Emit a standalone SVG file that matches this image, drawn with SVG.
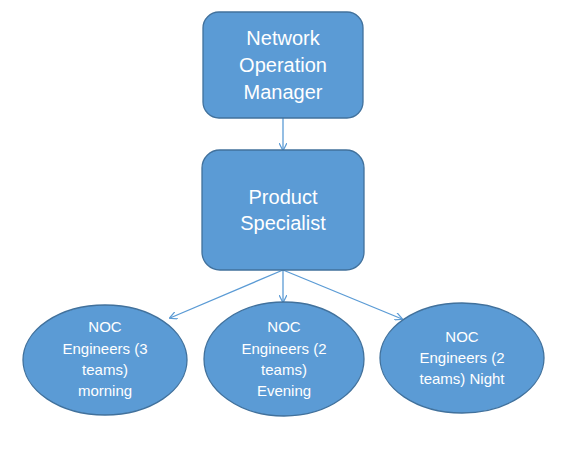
<svg xmlns="http://www.w3.org/2000/svg" width="567" height="465" viewBox="0 0 567 465">
<style>
.n{fill:#5B9BD5;stroke:#41719C;stroke-width:1.3}
.t{fill:#fff;font-family:"Liberation Sans",Arial,sans-serif;text-anchor:middle}
.b{font-size:20px}
.s{font-size:15px}
.c{stroke:#5B9BD5;stroke-width:1.3;fill:none;marker-end:url(#ah)}
</style>
<defs>
<marker id="ah" viewBox="0 0 10 10" refX="9" refY="5" markerWidth="8" markerHeight="8" markerUnits="userSpaceOnUse" orient="auto">
<path d="M0,0 L10,5 L0,10" fill="none" stroke="#5B9BD5" stroke-width="1.5"/>
</marker>
</defs>
<rect width="567" height="465" fill="#fff"/>
<g id="connectors">
<line class="c" x1="283" y1="118" x2="283" y2="150"/>
<line class="c" x1="283" y1="270" x2="283" y2="302"/>
<line class="c" x1="283" y1="270" x2="170" y2="318"/>
<line class="c" x1="283" y1="270" x2="402" y2="319"/>
</g>
<g id="manager">
<rect class="n" x="203" y="12" width="160" height="106" rx="16"/>
<text class="t b" x="283" y="45">Network</text>
<text class="t b" x="283" y="72">Operation</text>
<text class="t b" x="283" y="99">Manager</text>
</g>
<g id="specialist">
<rect class="n" x="202" y="150" width="162" height="120" rx="18"/>
<text class="t b" x="283" y="204">Product</text>
<text class="t b" x="283" y="230">Specialist</text>
</g>
<g id="morning">
<ellipse class="n" cx="105" cy="360" rx="82" ry="55"/>
<text class="t s" x="105" y="332">NOC</text>
<text class="t s" x="105" y="354">Engineers (3</text>
<text class="t s" x="105" y="375">teams)</text>
<text class="t s" x="105" y="396">morning</text>
</g>
<g id="evening">
<ellipse class="n" cx="284" cy="359" rx="80" ry="57"/>
<text class="t s" x="284" y="332">NOC</text>
<text class="t s" x="284" y="354">Engineers (2</text>
<text class="t s" x="284" y="375">teams)</text>
<text class="t s" x="284" y="396">Evening</text>
</g>
<g id="night">
<ellipse class="n" cx="462" cy="358" rx="82" ry="55"/>
<text class="t s" x="462" y="342">NOC</text>
<text class="t s" x="462" y="363">Engineers (2</text>
<text class="t s" x="462" y="384">teams) Night</text>
</g>
</svg>
